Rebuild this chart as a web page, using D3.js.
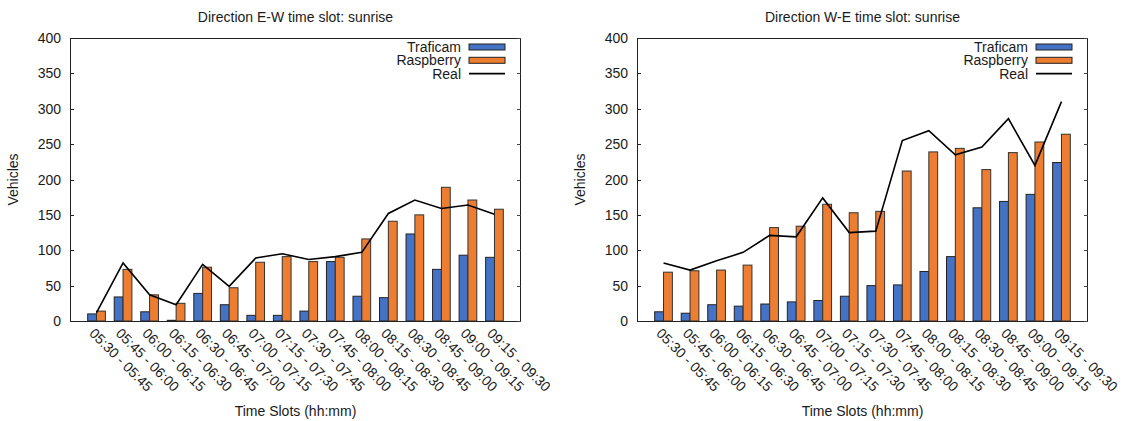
<!DOCTYPE html>
<html lang="en">
<head>
<meta charset="UTF-8">
<script src="https://d3js.org/d3.v7.min.js"></script>
<style>
  body { margin: 0; background: #fff; }
  svg text { font-family: "Liberation Sans", Arial, sans-serif; fill: #1a1a1a; }
</style>
</head>
<body>
<div id="chart"></div>
<script>
// time slot categories
const slots = ["05:30 - 05:45","05:45 - 06:00","06:00 - 06:15","06:15 - 06:30","06:30 - 06:45",
  "06:45 - 07:00","07:00 - 07:15","07:15 - 07:30","07:30 - 07:45","07:45 - 08:00","08:00 - 08:15",
  "08:15 - 08:30","08:30 - 08:45","08:45 - 09:00","09:00 - 09:15","09:15 - 09:30"]
const yTicks = [0, 50, 100, 150, 200, 250, 300, 350, 400]

// direction E-W
const ewTraficam  = [10, 34, 13, 1, 39, 23, 8, 8, 14, 84, 35, 33, 123, 73, 93, 90]
const ewRaspberry = [14, 73, 37, 25, 76, 47, 83, 91, 84, 90, 116, 141, 150, 189, 171, 158]
const ewReal      = [12, 82, 37, 23, 80, 49, 89, 95, 87, 91, 97, 152, 171, 159, 164, 151]

// direction W-E
const weTraficam  = [13, 11, 23, 21, 24, 27, 29, 35, 50, 51, 70, 91, 160, 169, 179, 224]
const weRaspberry = [69, 71, 72, 79, 132, 134, 165, 153, 155, 212, 239, 244, 214, 238, 253, 264]
const weReal      = [82, 72, 85, 97, 121, 119, 174, 125, 127, 255, 269, 235, 246, 286, 220, 310]

const colors = { traficam: "#4472C4", raspberry: "#ED7D31" }

const svg = d3.select("#chart").append("svg")
  .attr("width", 1129).attr("height", 421)

drawPanel(70, "Direction E-W time slot: sunrise", ewTraficam, ewRaspberry, ewReal)
drawPanel(637, "Direction W-E time slot: sunrise", weTraficam, weRaspberry, weReal)

function drawPanel(left, title, traficam, raspberry, real) {
  const top = 38, bottom = 321, right = left + 451
  const g = svg.append("g")

  const x = d3.scaleLinear().domain([-1, slots.length]).range([left, right])
  const y = d3.scaleLinear().domain([0, 400]).range([bottom, top])
  const w = 1 / 3

  // bars
  g.selectAll("rect.tr").data(traficam).enter().append("rect")
    .attr("x", (d, i) => x(i - w)).attr("width", x(w) - x(0))
    .attr("y", d => y(d)).attr("height", d => y(0) - y(d))
    .attr("fill", colors.traficam).attr("stroke", "#222").attr("stroke-width", 1)
  g.selectAll("rect.ra").data(raspberry).enter().append("rect")
    .attr("x", (d, i) => x(i)).attr("width", x(w) - x(0))
    .attr("y", d => y(d)).attr("height", d => y(0) - y(d))
    .attr("fill", colors.raspberry).attr("stroke", "#333").attr("stroke-width", 1)

  // real line
  const line = d3.line().x((d, i) => x(i)).y(d => y(d))
  g.append("path").datum(real).attr("d", line)
    .attr("fill", "none").attr("stroke", "#000").attr("stroke-width", 1.6)

  // frame
  g.append("rect").attr("x", left + 0.5).attr("y", top + 0.5)
    .attr("width", right - left - 1).attr("height", bottom - top)
    .attr("fill", "none").attr("stroke", "#222").attr("stroke-width", 1)

  // y ticks (inside, mirrored)
  yTicks.forEach(t => {
    const yy = Math.round(y(t)) + 0.5
    g.append("line").attr("x1", left).attr("x2", left + 4).attr("y1", yy).attr("y2", yy)
      .attr("stroke", "#222")
    g.append("line").attr("x1", right - 4).attr("x2", right).attr("y1", yy).attr("y2", yy)
      .attr("stroke", "#444")
    g.append("text").attr("x", left - 9).attr("y", y(t)).attr("dy", "0.36em")
      .attr("text-anchor", "end").style("font-size", "14px").text(t)
  })

  // x tick labels, rotated
  slots.forEach((s, i) => {
    g.append("text")
      .attr("transform", "translate(" + (x(i) - 1) + "," + (bottom + 6) + ") rotate(45)")
      .attr("dy", "0.72em").style("font-size", "14px").text(s)
  })

  // titles
  const cx = (left + right) / 2
  g.append("text").attr("x", cx).attr("y", 22).attr("text-anchor", "middle")
    .style("font-size", "14px").text(title)
  g.append("text").attr("x", cx).attr("y", 416).attr("text-anchor", "middle")
    .style("font-size", "14px").text("Time Slots (hh:mm)")
  g.append("text")
    .attr("transform", "translate(" + (left - 52) + "," + ((top + bottom) / 2) + ") rotate(-90)")
    .attr("text-anchor", "middle").style("font-size", "14px").text("Vehicles")

  // legend
  const items = [
    { name: "Traficam", color: colors.traficam },
    { name: "Raspberry", color: colors.raspberry },
    { name: "Real", color: null }
  ]
  items.forEach((it, k) => {
    const ly = 47 + k * 13.3
    g.append("text").attr("x", right - 60).attr("y", ly).attr("dy", "0.36em")
      .attr("text-anchor", "end").style("font-size", "14px").text(it.name)
    if (it.color) {
      g.append("rect").attr("x", right - 52).attr("y", ly - 3).attr("width", 36).attr("height", 6)
        .attr("fill", it.color).attr("stroke", "#222").attr("stroke-width", 1)
    } else {
      g.append("line").attr("x1", right - 52).attr("x2", right - 16).attr("y1", ly).attr("y2", ly)
        .attr("stroke", "#000").attr("stroke-width", 1.6)
    }
  })
}
</script>
</body>
</html>
